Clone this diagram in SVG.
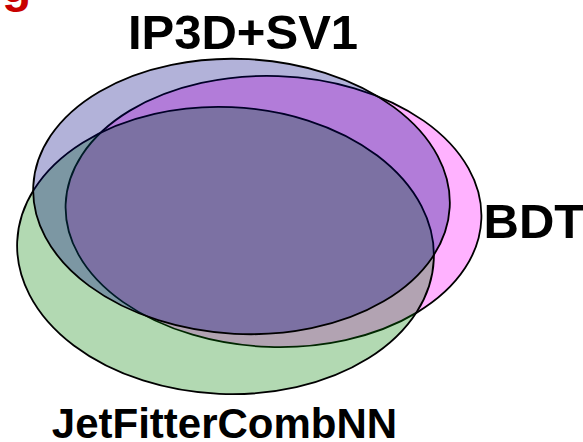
<svg xmlns="http://www.w3.org/2000/svg" width="583" height="442" viewBox="0 0 583 442">
  <style>
    .set { stroke: #000000; stroke-width: 1.8; fill-opacity: 0.3; }
    .label { font-family: "Liberation Sans", Arial, sans-serif; font-weight: bold; fill: #000000; }
    .title { font-family: "Liberation Sans", Arial, sans-serif; font-weight: bold; fill: #c80000; }
  </style>
  <rect width="583" height="442" fill="#ffffff"/>

  <!-- heading, mostly above the top edge -->
  <text class="title" x="2" y="2" font-size="48">g</text>

  <!-- sets drawn back to front: BDT, JetFitterCombNN, IP3D+SV1 -->
  <g id="set-bdt">
    <ellipse class="set" fill="#ff00ff" cx="273.5" cy="211.5" rx="208" ry="135.5" transform="rotate(2 273.5 211.5)"/>
    <text class="label" x="483.5" y="238" font-size="49">BDT</text>
  </g>

  <g id="set-jetfitter">
    <ellipse class="set" fill="#008000" cx="225.5" cy="250.5" rx="208.5" ry="143.5" transform="rotate(2.5 225.5 250.5)"/>
    <text class="label" x="224.5" y="437.5" font-size="42" text-anchor="middle">JetFitterCombNN</text>
  </g>

  <g id="set-ip3d-sv1">
    <ellipse class="set" fill="#000080" cx="241.5" cy="196.5" rx="208.5" ry="137.5" transform="rotate(3 241.5 196.5)"/>
    <text class="label" x="243" y="49" font-size="49" text-anchor="middle">IP3D+SV1</text>
  </g>
</svg>
